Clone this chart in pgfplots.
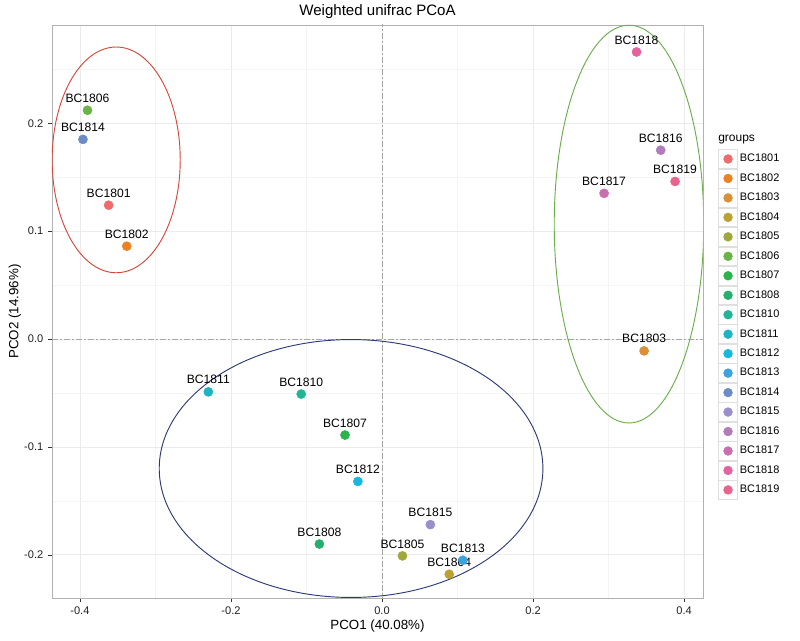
\documentclass[border=0pt]{standalone}
\usepackage{pgfplots}
\pgfplotsset{compat=1.18}
\usepackage{fontspec}
\setmainfont{Liberation Sans}
\definecolor{c01}{HTML}{EE6B6E}
\definecolor{c02}{HTML}{EB8224}
\definecolor{c03}{HTML}{D99036}
\definecolor{c04}{HTML}{BBA032}
\definecolor{c05}{HTML}{A0A83A}
\definecolor{c06}{HTML}{6BB347}
\definecolor{c07}{HTML}{2DB34C}
\definecolor{c08}{HTML}{27AE6E}
\definecolor{c10}{HTML}{22B595}
\definecolor{c11}{HTML}{1BB6C2}
\definecolor{c12}{HTML}{14B8E0}
\definecolor{c13}{HTML}{3AA3E0}
\definecolor{c14}{HTML}{6B8CC7}
\definecolor{c15}{HTML}{9B8FCB}
\definecolor{c16}{HTML}{B07DB8}
\definecolor{c17}{HTML}{C96FAE}
\definecolor{c18}{HTML}{E462A0}
\definecolor{c19}{HTML}{E8648D}
\definecolor{ellred}{HTML}{D5473A}
\definecolor{ellgreen}{HTML}{6AAE4A}
\definecolor{ellblue}{HTML}{2E3A78}
\definecolor{gridmaj}{HTML}{EBEBEB}
\definecolor{gridmin}{HTML}{F4F4F4}
\begin{document}
\begin{tikzpicture}
\useasboundingbox (-39pt,-31.5pt) rectangle (561pt,448.5pt);
\begin{axis}[
  scale only axis,
  width=488.25pt, height=429.75pt,
  xmin=-0.437, xmax=0.425, ymin=-0.240, ymax=0.291,
  xtick={-0.4,-0.2,0,0.2,0.4},
  xticklabels={-0.4,-0.2,0.0,0.2,0.4},
  ytick={-0.2,-0.1,0,0.1,0.2},
  yticklabels={-0.2,-0.1,0.0,0.1,0.2},
  minor xtick={-0.3,-0.1,0.1,0.3},
  minor ytick={-0.15,-0.05,0.05,0.15,0.25},
  grid=both,
  major grid style={gridmaj, line width=0.55pt},
  minor grid style={gridmin, line width=0.4pt},
  minor tick length=0pt,
  tick align=outside,
  major tick length=3pt,
  xtick pos=lower, ytick pos=left,
  tick style={gray!40!black, line width=0.5pt},
  axis line style={gray!60, line width=0.7pt},
  ticklabel style={font=\fontsize{8.3}{9}\selectfont, text=gray!25!black},
  title={Weighted unifrac PCoA},
  xlabel={PCO1 (40.08\%)},
  ylabel={PCO2 (14.96\%)},
  every axis title/.style={at={(axis description cs:0.5,1.024)}, anchor=center, font=\fontsize{11.3}{13}\selectfont},
  every axis x label/.style={at={(axis description cs:0.5,-0.049)}, anchor=center, font=\fontsize{10}{12}\selectfont},
  every axis y label/.style={at={(axis description cs:-0.0568,0.5)}, rotate=90, anchor=center, font=\fontsize{10}{12}\selectfont},
  legend style={at={(axis description cs:1.0230,0.7836)}, anchor=north west, draw=none, fill=none, inner sep=0pt, row sep=0pt, column sep=0pt, font=\fontsize{8.2}{9}\selectfont, nodes={inner sep=1.5pt}},
  legend cell align=left,
  legend image code/.code={\draw[draw=gray!25, fill=white, line width=0.5pt] (0pt,-7.05pt) rectangle (14.2pt,7.05pt); \fill (7.1pt,0pt) circle (3.3pt);},
  every axis plot/.append style={only marks, mark=*, mark size=3.4pt},
  nodes near coords style={font=\fontsize{9.1}{10}\selectfont, text=black, anchor=south, yshift=2.3pt},
]
% zero reference lines
\addplot[forget plot, no marks, draw=gray!70, line width=0.5pt, dash pattern=on 4pt off 2pt on 1pt off 2pt, only marks=false, sharp plot] coordinates {(0,-0.3) (0,0.3)};
\addplot[forget plot, no marks, draw=gray!70, line width=0.5pt, dash pattern=on 4pt off 2pt on 1pt off 2pt, only marks=false, sharp plot] coordinates {(-0.5,0) (0.5,0)};
% ellipses
\draw[ellred, line width=0.7pt] (axis cs:-0.352,0.166) ellipse [x radius=0.0848, y radius=0.1046];
\draw[ellgreen, line width=0.7pt] (axis cs:0.327,0.1065) ellipse [x radius=0.0990, y radius=0.1843];
\draw[ellblue, line width=0.7pt] (axis cs:-0.041,-0.120) ellipse [x radius=0.2540, y radius=0.1195];
% points
\addplot[c01, nodes near coords={BC1801}] coordinates {(-0.362,0.124)};
\addlegendentry{BC1801}
\addplot[c02, nodes near coords={BC1802}] coordinates {(-0.338,0.086)};
\addlegendentry{BC1802}
\addplot[c03, nodes near coords={BC1803}] coordinates {(0.347,-0.011)};
\addlegendentry{BC1803}
\addplot[c04, nodes near coords={BC1804}] coordinates {(0.089,-0.218)};
\addlegendentry{BC1804}
\addplot[c05, nodes near coords={BC1805}] coordinates {(0.027,-0.201)};
\addlegendentry{BC1805}
\addplot[c06, nodes near coords={BC1806}] coordinates {(-0.390,0.212)};
\addlegendentry{BC1806}
\addplot[c07, nodes near coords={BC1807}] coordinates {(-0.049,-0.089)};
\addlegendentry{BC1807}
\addplot[c08, nodes near coords={BC1808}] coordinates {(-0.083,-0.190)};
\addlegendentry{BC1808}
\addplot[c10, nodes near coords={BC1810}] coordinates {(-0.107,-0.051)};
\addlegendentry{BC1810}
\addplot[c11, nodes near coords={BC1811}] coordinates {(-0.230,-0.049)};
\addlegendentry{BC1811}
\addplot[c12, nodes near coords={BC1812}] coordinates {(-0.032,-0.132)};
\addlegendentry{BC1812}
\addplot[c13, nodes near coords={BC1813}] coordinates {(0.107,-0.205)};
\addlegendentry{BC1813}
\addplot[c14, nodes near coords={BC1814}] coordinates {(-0.396,0.185)};
\addlegendentry{BC1814}
\addplot[c15, nodes near coords={BC1815}] coordinates {(0.064,-0.172)};
\addlegendentry{BC1815}
\addplot[c16, nodes near coords={BC1816}] coordinates {(0.369,0.175)};
\addlegendentry{BC1816}
\addplot[c17, nodes near coords={BC1817}] coordinates {(0.294,0.135)};
\addlegendentry{BC1817}
\addplot[c18, nodes near coords={BC1818}] coordinates {(0.337,0.266)};
\addlegendentry{BC1818}
\addplot[c19, nodes near coords={BC1819}] coordinates {(0.388,0.146)};
\addlegendentry{BC1819}
\end{axis}
\node[anchor=west, inner sep=0pt, font=\fontsize{9}{10}\selectfont] at (499.5pt,343.5pt) {groups};
\end{tikzpicture}
\end{document}
